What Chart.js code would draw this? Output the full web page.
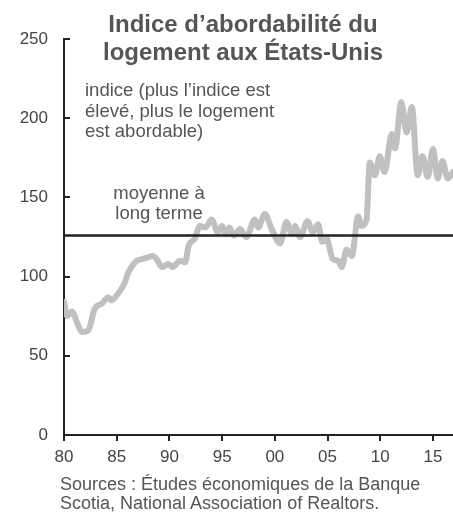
<!DOCTYPE html>
<html>
<head>
<meta charset="utf-8">
<script src="https://cdn.jsdelivr.net/npm/chart.js@4"></script>
<style>
    body { margin: 0; background: #fff; }
    #caja { position: relative; width: 453px; height: 514px; font-family: "Liberation Sans", Arial, sans-serif; }
    #Grafico1 { position: absolute; left: 0; top: 0; }
    .texto { position: absolute; color: #555; white-space: nowrap; }
    #titulo { left: 64px; width: 358px; top: 10px; text-align: center; font-weight: bold; font-size: 24px; line-height: 28px; }
    #nota { left: 85px; top: 80px; font-size: 18.5px; line-height: 20.5px; }
    #moyenne { left: 100px; width: 118px; top: 183px; text-align: center; font-size: 18.5px; line-height: 20px; }
    #fuente { left: 60px; top: 475px; font-size: 18px; line-height: 19px; }
</style>
</head>
<body>
<div id="caja">
    <canvas id="Grafico1" width="453" height="514"></canvas>
    <div class="texto" id="titulo">Indice d’abordabilité du<br>logement aux États-Unis</div>
    <div class="texto" id="nota">indice (plus l’indice est<br>élevé, plus le logement<br>est abordable)</div>
    <div class="texto" id="moyenne">moyenne à<br>long terme</div>
    <div class="texto" id="fuente">Sources : Études économiques de la Banque<br>Scotia, National Association of Realtors.</div>
</div>
<script>
// valores (año decimal, indice)
let anios = [1980.0, 1980.3, 1980.75, 1981.3, 1981.7, 1982.3, 1982.9, 1983.6, 1984.2, 1984.5,
    1985.1, 1985.8, 1986.0, 1986.9, 1987.4, 1987.9, 1988.4, 1988.8, 1989.3, 1989.9,
    1990.3, 1991.0, 1991.5, 1991.8, 1992.4, 1992.9, 1993.4, 1994.0, 1994.6, 1995.0,
    1995.3, 1995.7, 1996.1, 1996.7, 1997.3, 1998.1, 1998.4, 1999.05, 1999.7, 2000.5,
    2001.1, 2001.6, 2001.9, 2002.4, 2003.1, 2003.6, 2004.1, 2004.5, 2004.9, 2005.5,
    2006.0, 2006.35, 2006.8, 2007.3, 2007.9, 2008.2, 2008.7, 2009.0, 2009.5, 2009.95,
    2010.4, 2011.1, 2011.4, 2012.0, 2012.5, 2013.0, 2013.55, 2014.0, 2014.5, 2015.0,
    2015.45, 2015.9, 2016.4, 2016.9];
let indice = [84, 75, 78, 70, 65, 66, 79.5, 83, 87, 85,
    89, 96.6, 101, 110, 111, 112, 113, 111, 106, 108,
    106, 110, 109, 119, 124, 132, 131, 136, 128, 132,
    127, 131, 126, 130, 125, 136, 131, 139.5, 130, 121,
    134.5, 127, 132, 125, 135, 128, 133, 122, 124, 111,
    110, 106, 117, 113, 138, 132, 136, 172, 164, 176,
    166, 190, 181, 210, 191, 207, 164, 176, 163, 180.5,
    162, 173, 162, 166];
let promedio = 126;
let aniosTicks = [1980, 1985, 1990, 1995, 2000, 2005, 2010, 2015];
let indiceTicks = [0, 50, 100, 150, 200, 250];
let xMin = 1980, xMax = 2016.9;

let serie = anios.map((a, i) => ({ x: a, y: indice[i] }));
let linea = [{ x: xMin, y: promedio }, { x: xMax, y: promedio }];

// marcas del eje y hacia adentro
let marcasY = {
    id: 'marcasY',
    afterDraw(chart) {
        let ctx = chart.ctx;
        let y = chart.scales.y;
        ctx.save();
        ctx.strokeStyle = '#222';
        ctx.lineWidth = 2;
        indiceTicks.forEach(v => {
            let py = Math.round(y.getPixelForValue(v));
            ctx.beginPath();
            ctx.moveTo(y.right - 1, py);
            ctx.lineTo(y.right + 6, py);
            ctx.stroke();
        });
        ctx.restore();
    }
};

function $id(n) { return document.getElementById(n); }
let CanvasG1 = $id('Grafico1').getContext('2d');

let G1 = new Chart(CanvasG1, {
    type: 'line',
    data: {
        datasets: [{
            data: linea,
            borderColor: '#222',
            borderWidth: 2.5,
            pointRadius: 0,
            order: 1
        }, {
            data: serie,
            borderColor: '#c0c0c2',
            borderWidth: 6,
            pointRadius: 0,
            cubicInterpolationMode: 'monotone',
            borderJoinStyle: 'round',
            borderCapStyle: 'round',
            order: 2
        }]
    },
    options: {
        responsive: false,
        animation: false,
        layout: { padding: { top: 39, left: 0, right: 0, bottom: 0 } },
        plugins: { legend: { display: false }, tooltip: { enabled: false } },
        scales: {
            x: {
                type: 'linear',
                min: xMin,
                max: xMax,
                afterBuildTicks: s => { s.ticks = aniosTicks.map(v => ({ value: v })); },
                afterFit: s => { s.height = 79; },
                grid: { drawOnChartArea: false, drawTicks: true, tickLength: 6, color: '#222', lineWidth: 2 },
                border: { color: '#222', width: 2 },
                ticks: {
                    color: '#444',
                    padding: 6,
                    maxRotation: 0,
                    font: { family: '"Liberation Sans", Arial, sans-serif', size: 17 },
                    callback: v => String(v % 100).padStart(2, '0')
                }
            },
            y: {
                min: 0,
                max: 250,
                afterBuildTicks: s => { s.ticks = indiceTicks.map(v => ({ value: v })); },
                afterFit: s => { s.width = 64; },
                grid: { drawOnChartArea: false, drawTicks: false },
                border: { color: '#222', width: 2 },
                ticks: {
                    color: '#444',
                    padding: 16,
                    font: { family: '"Liberation Sans", Arial, sans-serif', size: 17 }
                }
            }
        }
    },
    plugins: [marcasY]
});
</script>
</body>
</html>
